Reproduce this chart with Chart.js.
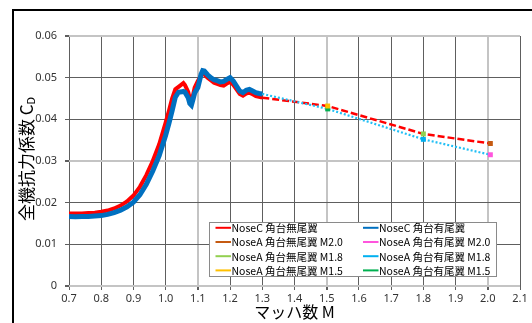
<!DOCTYPE html>
<html>
<head>
<meta charset="utf-8">
<script src="https://cdn.jsdelivr.net/npm/chart.js@4/dist/chart.umd.min.js"></script>
<style>
  html, body { margin: 0; padding: 0; background: #fff; }
  canvas { display: block; }
</style>
</head>
<body>
<canvas id="cd" width="532" height="323"></canvas>
<script>
// Mach sweep of the NoseC runs
const machSweep = [0.70,0.72,0.74,0.76,0.78,0.80,0.82,0.84,0.86,0.88,0.90,0.92,0.94,0.96,0.98,1.00,1.01,1.02,1.03,1.04,1.05,1.055,1.06,1.07,1.075,1.08,1.085,1.09,1.10,1.11,1.115,1.12,1.13,1.14,1.15,1.16,1.17,1.18,1.19,1.20,1.21,1.22,1.23,1.24,1.25,1.26,1.27,1.28,1.29,1.30];
// NoseC 角台無尾翼
const cdNoseCNoTail = [0.0174,0.0174,0.0174,0.0175,0.0176,0.0178,0.0181,0.0186,0.0193,0.0203,0.0217,0.0238,0.0266,0.0300,0.0340,0.0392,0.0420,0.0450,0.0472,0.0478,0.0484,0.0487,0.0482,0.0466,0.0450,0.0446,0.0458,0.0476,0.0492,0.0505,0.0510,0.0508,0.0500,0.0494,0.0488,0.0485,0.0482,0.0481,0.0486,0.0489,0.0483,0.0472,0.0461,0.0457,0.0462,0.0464,0.0460,0.0456,0.0454,0.0452];
// NoseC 角台有尾翼
const cdNoseCTail = [0.0167,0.0166,0.0167,0.0167,0.0168,0.0169,0.0172,0.0176,0.0182,0.0190,0.0201,0.0219,0.0244,0.0276,0.0313,0.0362,0.0390,0.0420,0.0453,0.0465,0.0466,0.0467,0.0465,0.0452,0.0438,0.0434,0.0448,0.0463,0.0476,0.0508,0.0517,0.0516,0.0507,0.0500,0.0495,0.0493,0.0490,0.0491,0.0496,0.0500,0.0492,0.0480,0.0468,0.0464,0.0470,0.0472,0.0468,0.0464,0.0462,0.0461];

// NoseA single-point runs
const machNoseA = [2.008, 1.80, 1.503];           // M2.0, M1.8, M1.5
const cdNoseANoTail = [0.0342, 0.0365, 0.0432];
const cdNoseATail = [0.0315, 0.0352, 0.0425];

// Supersonic trend lines joining the end of the sweep to the NoseA points
const machTrend = [1.30, 1.503, 1.80, 2.008];
const cdTrendNoTail = [0.0452, 0.0432, 0.0365, 0.0342];
const cdTrendTail = [0.0461, 0.0425, 0.0352, 0.0315];

const xTicks = [0.7,0.8,0.9,1.0,1.1,1.2,1.3,1.4,1.5,1.6,1.7,1.8,1.9,2.0,2.1];
const yTicks = [0,0.01,0.02,0.03,0.04,0.05,0.06];

const pts = (xs, ys) => xs.map((x, i) => ({ x, y: ys[i] }));

function marker(label, color, idx, cdArr, order) {
  return {
    label, type: 'scatter', order,
    data: [{ x: machNoseA[idx], y: cdArr[idx] }],
    backgroundColor: color, borderColor: color,
    pointStyle: 'rect', pointRadius: 3.5, pointHoverRadius: 3.5, borderWidth: 0,
    showLine: false
  };
}

const datasets = [
  { label: 'NoseC 角台無尾翼', data: pts(machSweep, cdNoseCNoTail), borderColor: '#ff0000', backgroundColor: '#ff0000',
    borderWidth: 4, showLine: true, pointRadius: 0, order: 5 },
  { label: 'NoseC 角台有尾翼', data: pts(machSweep, cdNoseCTail), borderColor: '#0070c0', backgroundColor: '#0070c0',
    borderWidth: 5, showLine: true, pointRadius: 0, order: 4 },
  marker('NoseA 角台無尾翼 M2.0', '#c55a11', 0, cdNoseANoTail, 0),
  marker('NoseA 角台有尾翼 M2.0', '#ff55dd', 0, cdNoseATail, 0),
  marker('NoseA 角台無尾翼 M1.8', '#92d050', 1, cdNoseANoTail, 0),
  marker('NoseA 角台有尾翼 M1.8', '#00b0f0', 1, cdNoseATail, 0),
  marker('NoseA 角台無尾翼 M1.5', '#ffc000', 2, cdNoseANoTail, 0),
  marker('NoseA 角台有尾翼 M1.5', '#00b050', 2, cdNoseATail, 0),
  { data: pts(machTrend, cdTrendNoTail), borderColor: '#ff0000', borderWidth: 2.5, borderDash: [7, 3],
    showLine: true, pointRadius: 0, order: 2 },
  { data: pts(machTrend, cdTrendTail), borderColor: '#22bff5', borderWidth: 2.2, borderDash: [2, 2],
    showLine: true, pointRadius: 0, order: 1 }
];

const near = (v, list) => list.some(t => Math.abs(v - t) < 1e-6);
const DARK = '#5e5e5e', LIGHT = '#c4c4c4';
const xLight = [1.1, 1.5, 2.0], yLight = [0, 0.03, 0.06];

const chartChrome = {
  id: 'chartChrome',
  beforeDraw(chart) {
    const ctx = chart.ctx;
    ctx.save();
    ctx.fillStyle = '#fff';
    ctx.fillRect(0, 0, chart.width, chart.height);
    ctx.strokeStyle = '#000';
    ctx.lineWidth = 2;
    ctx.beginPath();
    ctx.moveTo(13, chart.height + 5);
    ctx.lineTo(13, 10);
    ctx.lineTo(chart.width + 5, 10);
    ctx.stroke();
    ctx.restore();
  },
  afterDraw(chart) {
    const ctx = chart.ctx;
    const area = chart.chartArea;
    ctx.save();
    ctx.fillStyle = '#000';
    // y-axis title with subscript D
    ctx.translate(27, (area.top + area.bottom) / 2 - 2);
    ctx.rotate(-Math.PI / 2);
    const mainFont = '17px "Noto Sans CJK JP"';
    const subFont = '11px "Noto Sans CJK JP"';
    ctx.font = mainFont;
    const mainText = '全機抗力係数 C';
    const wMain = ctx.measureText(mainText).width;
    ctx.font = subFont;
    const wSub = ctx.measureText('D').width;
    const total = wMain + wSub;
    ctx.textBaseline = 'middle';
    ctx.textAlign = 'left';
    ctx.font = mainFont;
    ctx.fillText(mainText, -total / 2, 0);
    ctx.font = subFont;
    ctx.fillText('D', -total / 2 + wMain, 4);
    ctx.restore();

    // x-axis title
    ctx.save();
    ctx.fillStyle = '#000';
    ctx.font = '16px "Noto Sans CJK JP"';
    ctx.textAlign = 'center';
    ctx.textBaseline = 'middle';
    ctx.fillText('マッハ数 M', (area.left + area.right) / 2, 312);
    ctx.restore();

    // legend box inside the plot
    const items = chart.data.datasets.filter(d => d.label);
    const box = { x: 209.5, y: 222.5, w: 287, h: 54 };
    ctx.save();
    ctx.fillStyle = '#fff';
    ctx.fillRect(box.x, box.y, box.w, box.h);
    ctx.strokeStyle = '#8a8a8a';
    ctx.lineWidth = 1;
    ctx.strokeRect(box.x, box.y, box.w, box.h);
    ctx.font = '10.5px "Noto Sans CJK JP"';
    ctx.textBaseline = 'middle';
    ctx.textAlign = 'left';
    const colX = [215.5, 363];
    const rowY = [227.8, 242, 256.2, 270.4];
    items.forEach((d, i) => {
      const cx = colX[i % 2], cy = rowY[Math.floor(i / 2)];
      ctx.strokeStyle = d.borderColor;
      ctx.lineWidth = 2;
      ctx.beginPath();
      ctx.moveTo(cx, cy);
      ctx.lineTo(cx + 15.5, cy);
      ctx.stroke();
      ctx.fillStyle = '#000';
      ctx.fillText(d.label, cx + 16, cy + 0.5);
    });
    ctx.restore();
  }
};

new Chart(document.getElementById('cd'), {
  type: 'scatter',
  data: { datasets },
  plugins: [chartChrome],
  options: {
    responsive: false,
    animation: false,
    layout: { padding: { left: 0, right: 12, top: 36, bottom: 0 } },
    plugins: { legend: { display: false }, tooltip: { enabled: false } },
    elements: { line: { tension: 0, fill: false } },
    scales: {
      x: {
        type: 'linear', min: 0.7, max: 2.1,
        afterBuildTicks: s => { s.ticks = xTicks.map(v => ({ value: v })); },
        afterFit: s => { s.height = 37; },
        border: { display: false },
        grid: {
          color: c => near(c.tick.value, xLight) ? LIGHT : DARK,
          lineWidth: c => near(c.tick.value, xLight) ? 2 : 1,
          tickColor: DARK, tickLength: 4
        },
        ticks: {
          autoSkip: false, maxRotation: 0, padding: 2,
          color: '#333', font: { family: '"Noto Sans"', size: 11 },
          callback: v => Number(v).toFixed(1)
        },
        title: { display: false }
      },
      y: {
        type: 'linear', min: 0, max: 0.06,
        afterBuildTicks: s => { s.ticks = yTicks.map(v => ({ value: v })); },
        afterFit: s => { s.width = 69; },
        border: { display: false },
        grid: {
          color: c => near(c.tick.value, yLight) ? LIGHT : DARK,
          lineWidth: c => near(c.tick.value, yLight) ? 2 : 1,
          tickColor: DARK, tickLength: 4
        },
        ticks: {
          padding: 8,
          color: '#333', font: { family: '"Noto Sans"', size: 11 },
          callback: v => v === 0 ? '0' : Number(v).toFixed(2)
        },
        title: { display: false }
      }
    }
  }
});
</script>
</body>
</html>
